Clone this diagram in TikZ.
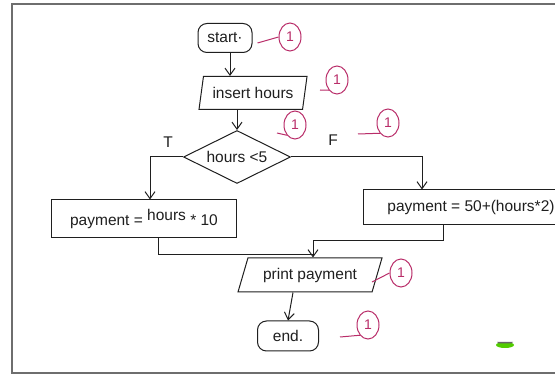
\documentclass[tikz,border=0pt]{standalone}
\usepackage{fontspec}
\setmainfont{Liberation Sans}
\usetikzlibrary{shapes.geometric,arrows.meta,calc}
\definecolor{ink}{rgb}{0.12,0.12,0.12}
\definecolor{marker}{RGB}{185,45,105}
\definecolor{frame}{RGB}{110,110,110}
\tikzset{
  hand/.style={font=\fontsize{15.5}{17}\selectfont, text=ink},
  flow/.style={draw=ink, line width=1pt, hand, inner sep=2pt},
  term/.style={flow, rounded corners=9pt},
  io/.style={flow, trapezium, trapezium stretches=true},
  choice/.style={flow, diamond, aspect=2, inner sep=0pt},
  procbox/.style={flow, rectangle},
  link/.style={draw=ink, line width=1pt, -{Straight Barb[length=7pt,width=10pt]}},
  plain/.style={draw=ink, line width=1pt},
  penmark/.style={draw=marker, line width=1pt},
  markone/.style={draw=marker, line width=1pt, ellipse, minimum width=22pt, minimum height=28pt, inner sep=0pt, text=marker, font=\fontsize{14}{16}\selectfont},
}
\begin{document}
\begin{tikzpicture}[x=1pt,y=-1pt]
\useasboundingbox (0,0) rectangle (555,374);
\fill[white] (0,0) rectangle (555,374);
% page frame
\draw[frame, line width=1.2pt] (12,374) -- (12,4) -- (555,4);
\draw[frame, line width=1.2pt] (12,373) -- (555,373);

% flowchart shapes
\node[term, minimum width=54pt, minimum height=29pt] (start) at (225,38) {start·};
\node[io, trapezium left angle=76, trapezium right angle=104, minimum width=109pt, minimum height=33pt] (input) at (253,93) {insert hours};
\node[choice, minimum width=107pt, minimum height=53pt] (test) at (237,157) {hours <5};
\node[procbox, minimum width=185pt, minimum height=38pt] (low) at (144,219) {payment = \raisebox{5pt}{hours} * 10};
\node[procbox, minimum width=215pt, minimum height=35pt, anchor=west] (high) at (363,207.5) {payment = 50+(hours*2)};
\node[io, trapezium left angle=67, trapezium right angle=113, minimum width=144pt, minimum height=34pt] (out) at (310,275) {print payment};
\node[term, minimum width=61pt, minimum height=30pt] (stop) at (288,336) {end.};

% branch labels
\node[hand] (tlab) at (168,142) {T};
\node[hand] (flab) at (333,140) {F};

% connectors
\draw[link] ($(start.south)+(5,0)$) -- ($(start.south |- input.north)+(5,0)$);
\draw[link] (test.north |- input.south) -- (test.north);
\coordinate (tin) at ($(low.north)+(6,0)$);
\draw[link] (test.west) -| (tin);
\coordinate (fin) at ($(high.north west)+(59,0)$);
\draw[link] (test.east) -| (fin);
\coordinate (lowout) at ($(low.south)+(14,0)$);
\coordinate (highout) at ($(high.south west)+(80,0)$);
\coordinate (join) at (313,241);
\coordinate (lowjoin) at (313,255);
\draw[plain] (lowout) |- (lowjoin);
\draw[plain] (highout) |- (join);
\draw[link] (join) -- (out.north -| join);
\draw[link] ($(out.south -| stop)+(5,0)$) -- (stop.north);

% marker annotations
\node[markone] (m1) at (290,37) {1};
\draw[penmark] ($(start.east)+(5,5)$) -- (m1.west);
\node[markone] (m2) at (337,80) {1};
\draw[penmark] (320,90) -- (m2.south west);
\node[markone] (m3) at (295,125) {1};
\draw[penmark] (277,133) -- (m3.south west);
\node[markone] (m4) at (388,123) {1};
\draw[penmark] (358,134) -- (m4.south west);
\node[markone] (m5) at (401,273) {1};
\draw[penmark] (372,282) -- (m5.west);
\node[markone] (m6) at (368,325) {1};
\draw[penmark] (340,337) -- (m6.south west);

% small green smudge
\fill[green!60!yellow!80!black] (505,345) ellipse (9pt and 3pt);
\fill[black!60] (497,342) -- (513,342) -- (511,343.5) -- (499,343.5) -- cycle;
\end{tikzpicture}
\end{document}
